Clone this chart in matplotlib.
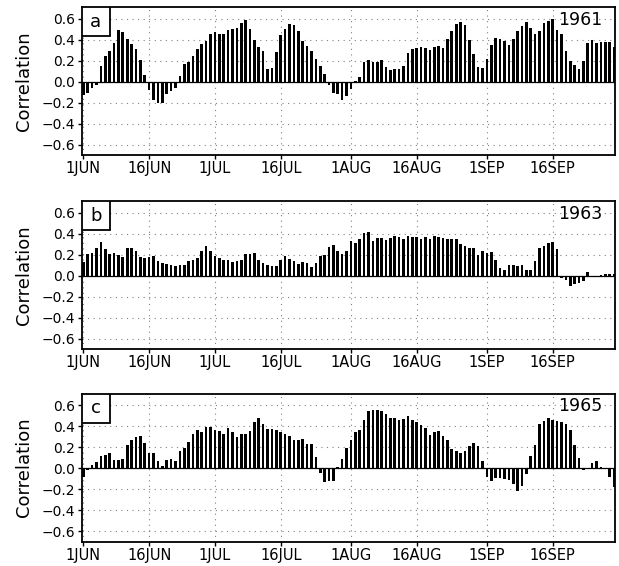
#!/usr/bin/env python3

'''daily correlation bars for three summers (1 JUN - 30 SEP)'''

import numpy as np
import matplotlib
matplotlib.use('Agg')
import matplotlib.pyplot as plt
from matplotlib.patches import Rectangle
from matplotlib.ticker import FuncFormatter

OUTFILE = 'out.png'

# tick days counted from 1 JUN
TICK_DAYS = [0, 15, 30, 45, 61, 76, 92, 107]
TICK_LABELS = ['1JUN', '16JUN', '1JUL', '16JUL', '1AUG', '16AUG', '1SEP', '16SEP']
Y_TICKS = [-0.6, -0.4, -0.2, 0.0, 0.2, 0.4, 0.6]

PANELS = ['a', 'b', 'c']
YEARS = ['1961', '1963', '1965']

corr_1961 = [
    -0.13, -0.11, -0.06, -0.03, 0.15, 0.24, 0.29, 0.37, 0.49, 0.47,
    0.41, 0.36, 0.31, 0.21, 0.06, -0.08, -0.18, -0.20, -0.20, -0.12,
    -0.09, -0.06, 0.05, 0.17, 0.19, 0.24, 0.31, 0.36, 0.39, 0.45,
    0.47, 0.45, 0.45, 0.49, 0.50, 0.51, 0.56, 0.59, 0.50, 0.40,
    0.33, 0.29, 0.12, 0.13, 0.28, 0.44, 0.50, 0.55, 0.54, 0.48,
    0.39, 0.34, 0.29, 0.22, 0.15, 0.07, -0.03, -0.11, -0.12, -0.18,
    -0.14, -0.07, 0.01, 0.04, 0.19, 0.21, 0.19, 0.19, 0.21, 0.14,
    0.11, 0.12, 0.12, 0.15, 0.27, 0.31, 0.32, 0.33, 0.32, 0.30,
    0.33, 0.34, 0.32, 0.41, 0.48, 0.55, 0.57, 0.54, 0.40, 0.26,
    0.14, 0.13, 0.22, 0.35, 0.42, 0.41, 0.39, 0.35, 0.41, 0.48,
    0.53, 0.57, 0.51, 0.45, 0.48, 0.56, 0.58, 0.60, 0.49, 0.45,
    0.29, 0.20, 0.16, 0.12, 0.20, 0.37, 0.40, 0.37, 0.38, 0.38,
    0.38, 0.33,
]

corr_1963 = [
    0.13, 0.21, 0.22, 0.26, 0.32, 0.25, 0.21, 0.22, 0.20, 0.18,
    0.26, 0.26, 0.24, 0.18, 0.17, 0.18, 0.19, 0.14, 0.12, 0.11,
    0.10, 0.09, 0.10, 0.10, 0.14, 0.15, 0.17, 0.24, 0.28, 0.24,
    0.19, 0.17, 0.15, 0.15, 0.13, 0.14, 0.15, 0.21, 0.21, 0.22,
    0.15, 0.12, 0.10, 0.09, 0.09, 0.15, 0.19, 0.16, 0.14, 0.11,
    0.13, 0.12, 0.08, 0.12, 0.19, 0.20, 0.27, 0.29, 0.24, 0.21,
    0.24, 0.33, 0.31, 0.35, 0.41, 0.42, 0.33, 0.36, 0.36, 0.34,
    0.36, 0.38, 0.37, 0.35, 0.38, 0.37, 0.37, 0.35, 0.37, 0.35,
    0.38, 0.37, 0.36, 0.35, 0.35, 0.35, 0.30, 0.28, 0.26, 0.26,
    0.20, 0.24, 0.22, 0.23, 0.15, 0.07, 0.05, 0.10, 0.10, 0.09,
    0.10, 0.05, 0.05, 0.14, 0.26, 0.28, 0.31, 0.32, 0.25, -0.02,
    -0.04, -0.10, -0.08, -0.07, -0.05, 0.04, 0.00, 0.00, 0.01, 0.02,
    0.02, 0.02,
]

corr_1965 = [
    -0.08, -0.02, 0.03, 0.06, 0.12, 0.13, 0.14, 0.08, 0.08, 0.09,
    0.22, 0.27, 0.30, 0.31, 0.24, 0.14, 0.14, 0.07, 0.02, 0.08,
    0.09, 0.07, 0.16, 0.19, 0.25, 0.33, 0.36, 0.34, 0.39, 0.39,
    0.36, 0.35, 0.33, 0.38, 0.34, 0.30, 0.33, 0.33, 0.35, 0.44,
    0.48, 0.42, 0.37, 0.37, 0.36, 0.34, 0.33, 0.31, 0.27, 0.27,
    0.28, 0.23, 0.23, 0.11, -0.05, -0.13, -0.12, -0.12, 0.01, 0.09,
    0.19, 0.27, 0.34, 0.36, 0.46, 0.54, 0.55, 0.55, 0.54, 0.52,
    0.48, 0.48, 0.46, 0.47, 0.50, 0.46, 0.44, 0.41, 0.38, 0.32,
    0.34, 0.35, 0.31, 0.27, 0.18, 0.16, 0.14, 0.16, 0.21, 0.24,
    0.21, 0.07, -0.08, -0.12, -0.09, -0.09, -0.10, -0.11, -0.15, -0.22,
    -0.17, -0.06, 0.12, 0.22, 0.42, 0.45, 0.48, 0.46, 0.45, 0.44,
    0.42, 0.36, 0.22, 0.10, -0.02, -0.01, 0.05, 0.07, 0.01, -0.01,
    -0.08, -0.18,
]

SERIES = [corr_1961, corr_1963, corr_1965]

# axes boxes in figure fraction (left, bottom, width, height)
LEFT, WIDTH, HEIGHT = 0.1325, 0.861, 0.2615
BOTTOMS = [0.726, 0.383, 0.043]


def minus_fmt(v, pos):
    s = '{:.1f}'.format(v)
    return s.replace('-', '\u2212')


def draw_panel(fig, bottom, vals, letter, year):
    ax = fig.add_axes([LEFT, bottom, WIDTH, HEIGHT])
    days = np.arange(len(vals))
    ax.bar(days, vals, width=0.6, color='black', zorder=3)
    ax.axhline(0, color='black', lw=0.9, zorder=4)

    ax.set_xlim(-0.3, 121.2)
    ax.set_ylim(-0.7, 0.71)
    ax.set_xticks(TICK_DAYS)
    ax.set_xticklabels(TICK_LABELS, fontsize=10.5)
    ax.set_yticks(Y_TICKS)
    ax.yaxis.set_major_formatter(FuncFormatter(minus_fmt))
    ax.tick_params(axis='y', labelsize=10, length=3, width=1.0, direction='out', pad=2)
    ax.tick_params(axis='x', length=3, width=1.0, direction='out', pad=1.5)
    ax.grid(True, linestyle=(0, (1, 4)), color='0.5', lw=0.8, zorder=1)
    for sp in ax.spines.values():
        sp.set_linewidth(1.3)
    ax.set_ylabel('Correlation', fontsize=13, labelpad=6)

    # boxed panel letter in the upper left corner
    box = Rectangle((0, 0.804), 0.0525, 0.196, transform=ax.transAxes,
                    facecolor='white', edgecolor='black', lw=1.3, zorder=6)
    ax.add_patch(box)
    ax.text(0.026, 0.9, letter, transform=ax.transAxes, ha='center', va='center',
            fontsize=13, zorder=7)
    ax.text(0.976, 0.975, year, transform=ax.transAxes, ha='right', va='top',
            fontsize=12.5, zorder=7)
    return ax


def main():
    plt.rcParams['font.family'] = ['DejaVu Sans']
    fig = plt.figure(figsize=(6.19, 5.66), dpi=100)
    for bottom, vals, letter, year in zip(BOTTOMS, SERIES, PANELS, YEARS):
        draw_panel(fig, bottom, vals, letter, year)
    fig.savefig(OUTFILE, dpi=100, facecolor='white')
    plt.close(fig)


if __name__ == '__main__':
    main()
